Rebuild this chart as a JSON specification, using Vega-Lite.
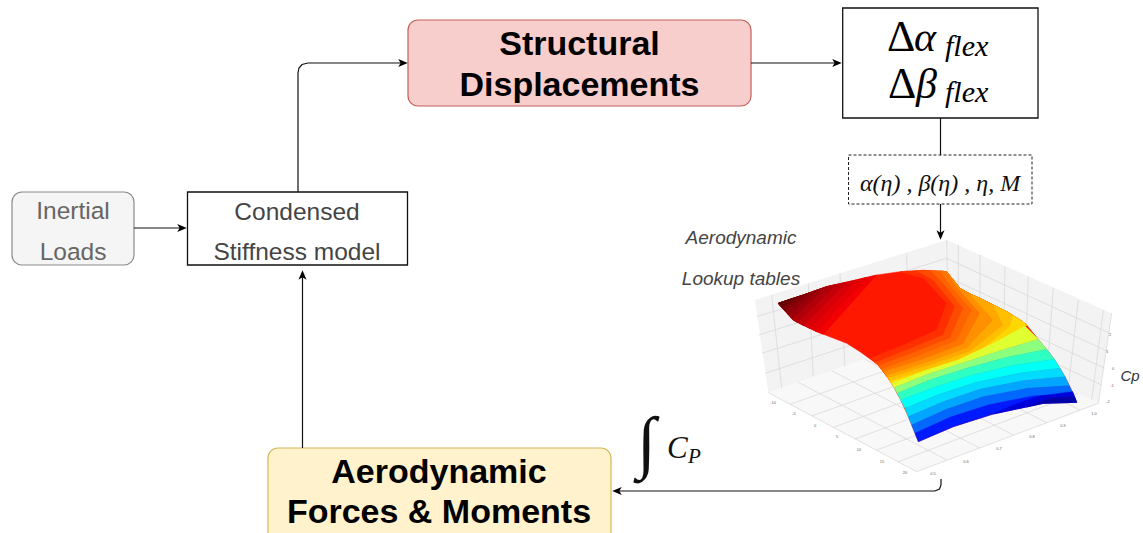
{"$schema":"https://vega.github.io/schema/vega-lite/v6.json","width":1143,"height":533,"autosize":"none","padding":0,"background":"white","config":{"view":{"stroke":null}},
"datasets":{
"panes":[
{"type":"Feature","properties":{"p":"wall"},"geometry":{"type":"Polygon","coordinates":[[[285,240],[860,60],[865,330],[325,518],[285,240]]]}},
{"type":"Feature","properties":{"p":"wall"},"geometry":{"type":"Polygon","coordinates":[[[860,60],[1355,280],[1315,550],[865,330],[860,60]]]}},
{"type":"Feature","properties":{"p":"floor"},"geometry":{"type":"Polygon","coordinates":[[[325,518],[770,755],[1315,550],[865,330],[325,518]]]}}],
"grid":[
{"type":"LineString","coordinates":[[335,225],[365,505]]},{"type":"LineString","coordinates":[[445,190],[460,470]]},{"type":"LineString","coordinates":[[540,160],[555,440]]},{"type":"LineString","coordinates":[[740,100],[745,370]]},
{"type":"LineString","coordinates":[[290,290],[860,115]]},{"type":"LineString","coordinates":[[295,345],[860,170]]},{"type":"LineString","coordinates":[[305,400],[862,225]]},{"type":"LineString","coordinates":[[315,460],[863,280]]},
{"type":"LineString","coordinates":[[895,75],[895,345]]},{"type":"LineString","coordinates":[[960,105],[960,375]]},{"type":"LineString","coordinates":[[1035,140],[1030,410]]},{"type":"LineString","coordinates":[[1105,170],[1095,440]]},{"type":"LineString","coordinates":[[1180,205],[1160,475]]},{"type":"LineString","coordinates":[[1255,240],[1225,505]]},{"type":"LineString","coordinates":[[1330,270],[1295,540]]},
{"type":"LineString","coordinates":[[860,115],[1350,340]]},{"type":"LineString","coordinates":[[860,170],[1345,395]]},{"type":"LineString","coordinates":[[862,225],[1335,445]]},{"type":"LineString","coordinates":[[863,280],[1325,495]]},
{"type":"LineString","coordinates":[[390,553],[930,362]]},{"type":"LineString","coordinates":[[455,588],[995,395]]},{"type":"LineString","coordinates":[[520,622],[1060,425]]},{"type":"LineString","coordinates":[[585,657],[1125,457]]},{"type":"LineString","coordinates":[[650,690],[1190,490]]},{"type":"LineString","coordinates":[[715,725],[1255,520]]},
{"type":"LineString","coordinates":[[860,720],[415,487]]},{"type":"LineString","coordinates":[[960,685],[515,452]]},{"type":"LineString","coordinates":[[1060,645],[615,418]]},{"type":"LineString","coordinates":[[1160,608],[715,383]]},{"type":"LineString","coordinates":[[1260,570],[815,348]]},
{"type":"LineString","coordinates":[[325,518],[770,755],[1315,550],[1355,280]]},{"type":"LineString","coordinates":[[860,60],[865,330]]}],
"surface":[
{"type":"Feature","properties":{"cp":0.87},"geometry":{"type":"Polygon","coordinates":[[[355,250],[430,225],[500,200],[580,182],[650,165],[720,155],[790,151],[860,155],[880,180],[900,205],[930,222],[960,235],[1000,255],[1040,275],[1080,300],[1100,315],[1135,358],[1160,388],[1183,418],[1200,445],[1215,470],[1228,497],[1240,522],[1250,547],[1150,550],[1000,582],[880,620],[775,665],[765,640],[745,590],[722,540],[702,503],[685,475],[655,435],[600,395],[560,370],[470,335],[400,300],[355,250]]]}},
{"type":"Feature","properties":{"cp":0.885},"geometry":{"type":"Polygon","coordinates":[[[355,250],[430,225],[500,200],[580,182],[650,165],[490,343],[470,335],[400,300],[355,250]]]}},
{"type":"Feature","properties":{"cp":0.895},"geometry":{"type":"Polygon","coordinates":[[[355,250],[430,225],[500,200],[580,182],[620,172],[470,335],[400,300],[355,250]]]}},
{"type":"Feature","properties":{"cp":0.905},"geometry":{"type":"Polygon","coordinates":[[[355,250],[430,225],[500,200],[580,182],[590,180],[450,326],[400,300],[355,250]]]}},
{"type":"Feature","properties":{"cp":0.92},"geometry":{"type":"Polygon","coordinates":[[[355,250],[430,225],[500,200],[560,187],[430,317],[400,300],[355,250]]]}},
{"type":"Feature","properties":{"cp":0.935},"geometry":{"type":"Polygon","coordinates":[[[355,250],[430,225],[500,200],[530,193],[412,308],[400,300],[355,250]]]}},
{"type":"Feature","properties":{"cp":0.95},"geometry":{"type":"Polygon","coordinates":[[[355,250],[430,225],[500,200],[397,296],[355,250]]]}},
{"type":"Feature","properties":{"cp":0.96},"geometry":{"type":"Polygon","coordinates":[[[355,250],[430,225],[475,209],[385,285],[355,250]]]}},
{"type":"Feature","properties":{"cp":0.975},"geometry":{"type":"Polygon","coordinates":[[[355,250],[430,225],[450,217],[375,274],[355,250]]]}},
{"type":"Feature","properties":{"cp":0.99},"geometry":{"type":"Polygon","coordinates":[[[355,250],[425,226],[366,263],[355,250]]]}},
{"type":"Feature","properties":{"cp":1.0},"geometry":{"type":"Polygon","coordinates":[[[355,250],[400,234],[360,256],[355,250]]]}},
{"type":"Feature","properties":{"cp":0.86},"geometry":{"type":"Polygon","coordinates":[[[630,415],[730,375],[830,330],[860,250],[790,175],[720,155],[790,151],[860,155],[880,180],[900,205],[930,222],[960,235],[1000,255],[1040,275],[1080,300],[1100,315],[1000,370],[895,420],[795,452],[695,490],[685,475],[655,435],[630,415]]]}},
{"type":"Feature","properties":{"cp":0.84},"geometry":{"type":"Polygon","coordinates":[[[645,428],[745,388],[850,345],[885,260],[820,180],[770,152],[790,151],[860,155],[880,180],[900,205],[930,222],[960,235],[1000,255],[1040,275],[1080,300],[1100,315],[1000,370],[895,420],[795,452],[695,490],[685,475],[655,435],[645,428]]]}},
{"type":"Feature","properties":{"cp":0.82},"geometry":{"type":"Polygon","coordinates":[[[655,437],[760,398],[870,355],[910,265],[850,190],[810,151],[860,155],[880,180],[900,205],[930,222],[960,235],[1000,255],[1040,275],[1080,300],[1100,315],[1000,370],[895,420],[795,452],[695,490],[685,475],[655,437]]]}},
{"type":"Feature","properties":{"cp":0.8},"geometry":{"type":"Polygon","coordinates":[[[665,448],[775,408],[890,362],[935,270],[870,195],[840,152],[860,155],[880,180],[900,205],[930,222],[960,235],[1000,255],[1040,275],[1080,300],[1100,315],[1000,370],[895,420],[795,452],[695,490],[685,475],[665,448]]]}},
{"type":"Feature","properties":{"cp":0.77},"geometry":{"type":"Polygon","coordinates":[[[672,455],[790,418],[910,372],[960,280],[890,200],[860,155],[880,180],[900,205],[930,222],[960,235],[1000,255],[1040,275],[1080,300],[1100,315],[1000,370],[895,420],[795,452],[695,490],[685,475],[672,455]]]}},
{"type":"Feature","properties":{"cp":0.74},"geometry":{"type":"Polygon","coordinates":[[[680,467],[800,428],[920,385],[1000,300],[930,222],[960,235],[1000,255],[1040,275],[1080,300],[1100,315],[1000,370],[895,420],[795,452],[695,490],[685,475],[680,467]]]}},
{"type":"Feature","properties":{"cp":0.71},"geometry":{"type":"Polygon","coordinates":[[[685,475],[805,437],[930,395],[1030,315],[1000,255],[1040,275],[1080,300],[1100,315],[1000,370],[895,420],[795,452],[695,490],[685,475]]]}},
{"type":"Feature","properties":{"cp":0.68},"geometry":{"type":"Polygon","coordinates":[[[690,483],[810,447],[945,405],[1050,320],[1060,287],[1080,300],[1100,315],[1000,370],[895,420],[795,452],[695,490],[690,483]]]}},
{"type":"Feature","properties":{"cp":0.6},"geometry":{"type":"Polygon","coordinates":[[[695,490],[795,452],[895,420],[1000,370],[1095,318],[1135,358],[1020,392],[905,430],[805,462],[702,503],[695,490]]]}},
{"type":"Feature","properties":{"cp":0.53},"geometry":{"type":"Polygon","coordinates":[[[702,503],[805,462],[905,430],[1020,392],[1135,358],[1160,388],[1040,412],[920,445],[815,478],[712,520],[702,503]]]}},
{"type":"Feature","properties":{"cp":0.46},"geometry":{"type":"Polygon","coordinates":[[[712,520],[815,478],[920,445],[1040,412],[1160,388],[1183,418],[1060,436],[935,466],[828,500],[722,540],[712,520]]]}},
{"type":"Feature","properties":{"cp":0.39},"geometry":{"type":"Polygon","coordinates":[[[722,540],[828,500],[935,466],[1060,436],[1183,418],[1200,445],[1075,460],[950,487],[840,522],[735,565],[722,540]]]}},
{"type":"Feature","properties":{"cp":0.32},"geometry":{"type":"Polygon","coordinates":[[[735,565],[840,522],[950,487],[1075,460],[1200,445],[1215,470],[1090,482],[960,508],[850,545],[745,590],[735,565]]]}},
{"type":"Feature","properties":{"cp":0.25},"geometry":{"type":"Polygon","coordinates":[[[745,590],[850,545],[960,508],[1090,482],[1215,470],[1228,497],[1105,505],[970,530],[860,568],[755,615],[745,590]]]}},
{"type":"Feature","properties":{"cp":0.18},"geometry":{"type":"Polygon","coordinates":[[[755,615],[860,568],[970,530],[1105,505],[1228,497],[1240,522],[1120,528],[985,555],[870,592],[765,640],[755,615]]]}},
{"type":"Feature","properties":{"cp":0.13},"geometry":{"type":"Polygon","coordinates":[[[765,640],[870,592],[985,555],[1120,528],[1240,522],[1250,547],[1150,550],[1000,582],[880,620],[775,665],[765,640]]]}},
{"type":"Feature","properties":{"cp":0.09},"geometry":{"type":"Polygon","coordinates":[[[1000,582],[1060,555],[1140,528],[1238,515],[1250,547],[1150,550],[1000,582]]]}},
{"type":"Feature","properties":{"cp":0.04},"geometry":{"type":"Polygon","coordinates":[[[1100,561],[1170,535],[1243,530],[1250,547],[1150,550],[1100,561]]]}}],
"boxes":[
{"name":"Inertial Loads","kind":"grey","x":12,"x2":134,"y":192,"y2":265},
{"name":"Structural Displacements","kind":"red","x":408,"x2":751,"y":20,"y2":106},
{"name":"Aerodynamic Forces & Moments","kind":"yellow","x":268,"x2":611,"y":448,"y2":545}],
"plain":[
{"name":"Condensed Stiffness model","x":187.5,"x2":407.5,"y":192,"y2":265},
{"name":"flex angles","x":842.7,"x2":1038,"y":8,"y2":118}],
"dashed":[{"name":"inputs","x":848.5,"x2":1032,"y":155,"y2":204}],
"links":[
{"id":"a","o":1,"x":134,"y":228},{"id":"a","o":2,"x":180,"y":228},
{"id":"b","o":1,"x":298,"y":192},{"id":"b","o":2,"x":298,"y":73},{"id":"b","o":3,"x":299,"y":68},{"id":"b","o":4,"x":302,"y":64.5},{"id":"b","o":5,"x":308,"y":63},{"id":"b","o":6,"x":402,"y":63},
{"id":"c","o":1,"x":751,"y":63},{"id":"c","o":2,"x":836,"y":63},
{"id":"d","o":1,"x":940.5,"y":118},{"id":"d","o":2,"x":940.5,"y":155},
{"id":"e","o":1,"x":940.5,"y":204},{"id":"e","o":2,"x":940.5,"y":234},
{"id":"f","o":1,"x":302.5,"y":448},{"id":"f","o":2,"x":302.5,"y":276},
{"id":"g","o":1,"x":941,"y":479},{"id":"g","o":2,"x":941,"y":485},{"id":"g","o":3,"x":939.5,"y":489},{"id":"g","o":4,"x":935,"y":491},{"id":"g","o":5,"x":618,"y":491}],
"heads":[
{"x":182,"y":228,"a":0},{"x":403,"y":63,"a":0},{"x":837,"y":63,"a":0},{"x":940.5,"y":235,"a":90},{"x":302.5,"y":275,"a":270},{"x":617,"y":491,"a":180}],
"greyText":[{"x":73,"y":212,"t":"Inertial"},{"x":73,"y":253,"t":"Loads"}],
"darkText":[{"x":297,"y":212.5,"t":"Condensed"},{"x":297,"y":253,"t":"Stiffness model"}],
"boldText":[{"x":579.5,"y":45,"t":"Structural"},{"x":579.5,"y":86,"t":"Displacements"},{"x":439,"y":473,"t":"Aerodynamic"},{"x":439,"y":513,"t":"Forces & Moments"}],
"italicText":[{"x":741,"y":238,"t":"Aerodynamic"},{"x":741,"y":279,"t":"Lookup tables"}],
"cpLabel":[{"x":1130,"y":376,"t":"Cp"}],
"ticks":[
{"x":773,"y":403,"t":"-10"},{"x":794,"y":414,"t":"-5"},{"x":815,"y":426,"t":"0"},{"x":837,"y":437,"t":"5"},{"x":859,"y":450,"t":"10"},{"x":882,"y":462,"t":"15"},{"x":905,"y":473,"t":"20"},
{"x":933,"y":474,"t":"0.5"},{"x":966,"y":462,"t":"0.6"},{"x":999,"y":449,"t":"0.7"},{"x":1032,"y":437,"t":"0.8"},{"x":1063,"y":426,"t":"0.9"},{"x":1094,"y":414,"t":"1.0"},
{"x":1110,"y":335,"t":"2"},{"x":1107,"y":352,"t":"1"},{"x":1113,"y":369,"t":"0"},{"x":1112,"y":386,"t":"-1"},{"x":1108,"y":402,"t":"-2"}],
"mathDelta":[{"x":887,"y":51,"t":"Δ"},{"x":888,"y":98,"t":"Δ"}],
"mathGreek":[{"x":914,"y":51,"t":"α"},{"x":916,"y":98,"t":"β"}],
"mathSub":[{"x":945,"y":56,"t":"flex"},{"x":945,"y":102,"t":"flex"}],
"mathMid":[{"x":940,"y":191,"t":"α(η) , β(η) , η, M"}],
"integral":[{"x":637,"y":465,"t":"∫"}],
"cpMain":[{"x":667,"y":458,"t":"C"}],
"cpSub":[{"x":688,"y":463,"t":"P"}]
},
"layer":[
{"data":{"name":"panes"},"mark":{"type":"geoshape"},"projection":{"type":"identity","scale":0.33333,"translate":[660,220],"fit":false},"encoding":{"fill":{"field":"properties.p","type":"nominal","scale":{"domain":["wall","floor"],"range":["#f3f3f3","#f8f8f8"]},"legend":null}}},
{"data":{"name":"grid"},"mark":{"type":"geoshape","filled":false,"stroke":"#d6d6d6","strokeWidth":0.7},"projection":{"type":"identity","scale":0.33333,"translate":[660,220],"fit":false}},
{"data":{"name":"surface"},"mark":{"type":"geoshape","strokeWidth":0.5},"projection":{"type":"identity","scale":0.33333,"translate":[660,220],"fit":false},"encoding":{
"fill":{"field":"properties.cp","type":"quantitative","scale":{"type":"linear","domain":[0,0.125,0.375,0.625,0.875,1],"range":["#000080","#0000ff","#00ffff","#ffff00","#ff0000","#600000"]},"legend":null},
"stroke":{"field":"properties.cp","type":"quantitative","scale":{"type":"linear","domain":[0,0.125,0.375,0.625,0.875,1],"range":["#000080","#0000ff","#00ffff","#ffff00","#ff0000","#600000"]},"legend":null}}},
{"encoding":{"x":{"field":"x","type":"quantitative","scale":{"domain":[0,1143],"nice":false,"zero":false},"axis":null},"y":{"field":"y","type":"quantitative","scale":{"domain":[533,0],"nice":false,"zero":false},"axis":null}},
"layer":[
{"data":{"name":"boxes"},"mark":{"type":"rect","cornerRadius":10,"strokeWidth":1.2},"encoding":{"x2":{"field":"x2"},"y2":{"field":"y2"},
"fill":{"field":"kind","type":"nominal","scale":{"domain":["grey","red","yellow"],"range":["#f5f5f5","#f8cecc","#fff2cc"]},"legend":null},
"stroke":{"field":"kind","type":"nominal","scale":{"domain":["grey","red","yellow"],"range":["#8a8a8a","#c0605c","#d6b656"]},"legend":null}}},
{"data":{"name":"plain"},"mark":{"type":"rect","fill":"white","stroke":"#111111","strokeWidth":1.3},"encoding":{"x2":{"field":"x2"},"y2":{"field":"y2"}}},
{"data":{"name":"dashed"},"mark":{"type":"rect","fill":"white","stroke":"#222222","strokeWidth":1,"strokeDash":[3,2]},"encoding":{"x2":{"field":"x2"},"y2":{"field":"y2"}}},
{"data":{"name":"links"},"mark":{"type":"line","stroke":"#111111","strokeWidth":1.2},"encoding":{"detail":{"field":"id"},"order":{"field":"o","type":"quantitative"}}},
{"data":{"name":"heads"},"mark":{"type":"point","filled":true,"color":"#000000","opacity":1,"size":90,"shape":"M1,0L-1,-0.85L-0.5,0L-1,0.85Z"},"encoding":{"angle":{"field":"a","type":"quantitative","scale":null}}},
{"data":{"name":"greyText"},"mark":{"type":"text","font":"Liberation Sans","fontSize":24.5,"fill":"#666666","align":"center","baseline":"middle"},"encoding":{"text":{"field":"t"}}},
{"data":{"name":"darkText"},"mark":{"type":"text","font":"Liberation Sans","fontSize":24.5,"fill":"#444444","align":"center","baseline":"middle"},"encoding":{"text":{"field":"t"}}},
{"data":{"name":"boldText"},"mark":{"type":"text","font":"Liberation Sans","fontSize":34,"fontWeight":"bold","fill":"#000000","align":"center","baseline":"middle"},"encoding":{"text":{"field":"t"}}},
{"data":{"name":"italicText"},"mark":{"type":"text","font":"Liberation Sans","fontSize":19,"fontStyle":"italic","fill":"#444444","align":"center","baseline":"middle"},"encoding":{"text":{"field":"t"}}},
{"data":{"name":"cpLabel"},"mark":{"type":"text","font":"Liberation Sans","fontSize":15,"fontStyle":"italic","fill":"#333333","align":"center","baseline":"middle"},"encoding":{"text":{"field":"t"}}},
{"data":{"name":"ticks"},"mark":{"type":"text","font":"Liberation Sans","fontSize":4,"fill":"#666666","align":"center","baseline":"middle"},"encoding":{"text":{"field":"t"}}},
{"data":{"name":"mathDelta"},"mark":{"type":"text","font":"Liberation Serif","fontSize":44,"fill":"#000000","align":"left","baseline":"alphabetic"},"encoding":{"text":{"field":"t"}}},
{"data":{"name":"mathGreek"},"mark":{"type":"text","font":"Liberation Serif","fontSize":42,"fontStyle":"italic","fill":"#000000","align":"left","baseline":"alphabetic"},"encoding":{"text":{"field":"t"}}},
{"data":{"name":"mathSub"},"mark":{"type":"text","font":"Liberation Serif","fontSize":30,"fontStyle":"italic","fill":"#000000","align":"left","baseline":"alphabetic"},"encoding":{"text":{"field":"t"}}},
{"data":{"name":"mathMid"},"mark":{"type":"text","font":"Liberation Serif","fontSize":24,"fontStyle":"italic","fill":"#111111","align":"center","baseline":"alphabetic"},"encoding":{"text":{"field":"t"}}},
{"data":{"name":"integral"},"mark":{"type":"text","font":"Liberation Serif","fontSize":69,"fill":"#111111","align":"left","baseline":"alphabetic"},"encoding":{"text":{"field":"t"}}},
{"data":{"name":"cpMain"},"mark":{"type":"text","font":"Liberation Serif","fontSize":31,"fontStyle":"italic","fill":"#111111","align":"left","baseline":"alphabetic"},"encoding":{"text":{"field":"t"}}},
{"data":{"name":"cpSub"},"mark":{"type":"text","font":"Liberation Serif","fontSize":21,"fontStyle":"italic","fill":"#111111","align":"left","baseline":"alphabetic"},"encoding":{"text":{"field":"t"}}}
]}
]}
